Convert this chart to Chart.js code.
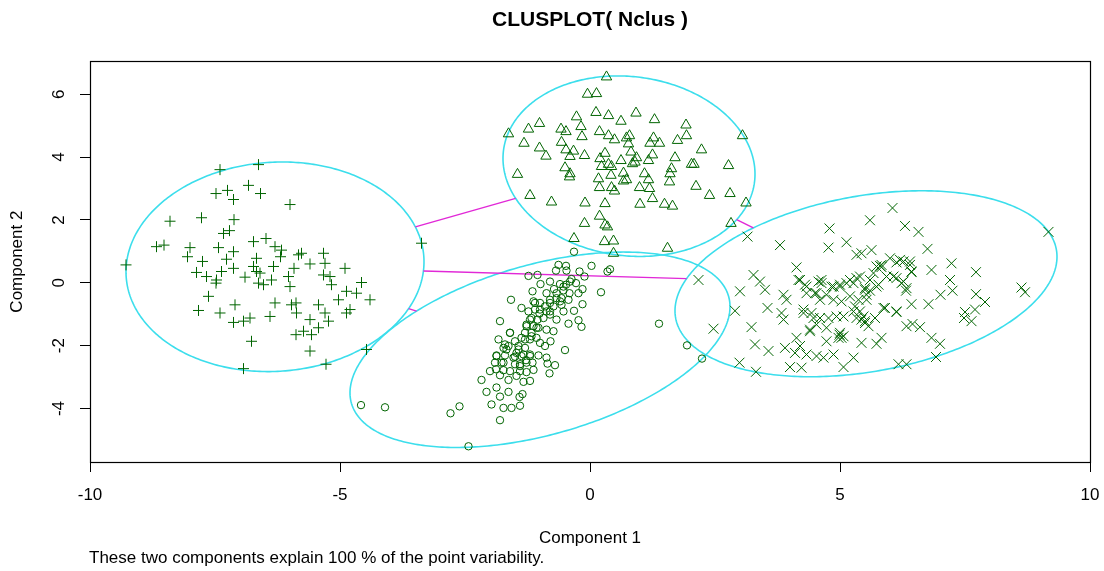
<!DOCTYPE html>
<html>
<head>
<meta charset="utf-8">
<script src="https://cdn.jsdelivr.net/npm/chart.js@4/dist/chart.umd.min.js"></script>
<style>
  html, body { margin: 0; padding: 0; background: #fff; }
  #wrap { width: 1104px; height: 571px; }
</style>
</head>
<body>
<div id="wrap"><canvas id="clusplot" width="1104" height="571"></canvas></div>
<script>
const X_TICKS = [-10, -5, 0, 5, 10];
const Y_TICKS = [-4, -2, 0, 2, 4, 6];

// cluster 1 (+)
const plusPts = [
  [-9.28,0.57],[-7.40,3.60],[-6.63,3.76],[-6.83,3.10],[-6.59,2.84],[-7.48,2.84],[-7.25,2.94],
  [-7.13,2.65],[-6.00,2.49],[-8.40,1.96],[-7.77,2.07],[-7.12,2.01],[-7.33,1.57],[-7.21,1.66],
  [-8.67,1.15],[-8.52,1.20],[-8.00,1.12],[-8.05,0.83],[-7.43,1.12],[-7.13,0.99],[-7.27,0.75],
  [-7.75,0.68],[-7.87,0.33],[-7.67,0.20],[-7.47,0.09],[-7.48,-0.01],[-7.37,0.36],[-7.13,0.46],
  [-6.90,0.18],[-6.73,0.52],[-6.67,0.78],[-6.73,1.31],[-6.48,1.41],[-6.30,1.15],[-6.17,1.04],
  [-6.19,0.83],[-6.67,0.36],[-6.60,0.31],[-6.63,-0.01],[-6.53,-0.06],[-6.37,0.09],[-6.33,0.52],
  [-6.03,0.20],[-5.92,0.46],[-6.00,-0.12],[-5.83,0.89],[-5.77,0.94],[-5.60,0.60],[-5.33,0.94],
  [-5.30,0.62],[-5.33,0.25],[-5.20,0.20],[-5.17,-0.06],[-4.90,0.46],[-4.57,0.01],[-4.87,-0.27],
  [-4.67,-0.33],[-4.40,-0.54],[-5.03,-0.54],[-4.87,-0.96],[-4.80,-0.85],[-7.63,-0.43],[-7.83,-0.88],
  [-7.40,-0.96],[-7.10,-0.70],[-7.13,-1.26],[-6.93,-1.22],[-6.80,-1.12],[-6.40,-1.07],[-6.30,-0.64],
  [-5.88,-0.64],[-5.97,-0.70],[-5.87,-0.96],[-5.43,-0.70],[-5.30,-0.96],[-5.23,-1.22],[-5.60,-1.17],
  [-5.88,-1.65],[-5.73,-1.54],[-5.57,-1.65],[-5.43,-1.43],[-6.77,-1.86],[-5.60,-2.17],[-4.47,-2.12],
  [-5.28,-2.59],[-6.93,-2.73],[-3.37,1.26]
];

// cluster 2 (triangles)
const trianglePts = [
  [0.33,6.55],[-0.05,6.00],[0.13,6.02],[-0.27,5.28],[0.12,5.42],[0.37,5.32],[0.62,5.14],[0.92,5.40],
  [1.29,5.19],[1.92,5.02],[-1.01,5.07],[-1.23,4.89],[-1.63,4.74],[-0.58,4.89],[-0.48,4.81],[-0.18,4.97],
  [-0.16,4.65],[0.19,4.81],[0.37,4.68],[0.49,4.55],[0.73,4.61],[0.79,4.68],[0.77,4.42],[1.27,4.61],
  [1.39,4.44],[1.20,4.44],[1.75,4.53],[1.93,4.68],[-1.32,4.44],[-1.01,4.29],[-0.88,4.03],[-0.57,4.47],
  [-0.48,4.23],[-0.33,4.19],[-0.40,4.02],[-0.11,4.05],[0.30,4.12],[0.20,3.95],[0.23,3.70],[0.37,3.77],
  [0.43,3.70],[0.42,3.42],[0.62,3.89],[0.67,3.49],[0.82,4.16],[0.93,3.98],[0.90,3.84],[0.85,3.79],
  [1.25,4.07],[1.17,3.89],[1.70,3.98],[2.23,4.23],[2.03,3.77],[2.08,3.77],[1.63,3.63],[1.60,3.47],
  [1.59,3.21],[2.77,3.73],[-1.45,3.45],[-0.50,3.66],[-0.40,3.47],[-0.41,3.37],[0.17,3.31],[0.19,3.03],
  [0.43,3.03],[0.49,2.92],[0.67,3.24],[0.73,3.28],[1.09,3.47],[1.17,3.28],[0.99,3.03],[1.19,3.00],
  [2.12,3.07],[2.39,2.78],[2.80,2.84],[-1.20,2.78],[-0.77,2.57],[-0.10,2.54],[0.30,2.52],[1.00,2.50],
  [1.25,2.68],[1.49,2.50],[1.65,2.44],[3.12,2.54],[3.05,4.68],[0.19,2.12],[0.30,1.84],[0.35,1.78],
  [-0.11,1.89],[-0.32,1.41],[0.29,1.31],[0.47,1.33],[1.55,1.10],[0.47,0.94],[2.82,1.89]
];

// cluster 3 (circles)
const circlePts = [
  [-0.32,0.99],[-0.63,0.57],[-0.48,0.54],[-0.68,0.39],[-0.47,0.39],[0.03,0.54],[-0.21,0.36],[-0.11,0.20],
  [-1.23,0.22],[-1.05,0.25],[-0.37,0.12],[-0.28,-0.01],[-0.99,-0.04],[-0.80,0.04],[-0.60,-0.04],[-0.48,-0.06],
  [-0.15,-0.20],[0.22,-0.30],[-1.15,-0.27],[-0.87,-0.33],[-0.72,-0.20],[-0.53,-0.24],[-0.41,-0.33],[-0.23,-0.33],
  [-0.57,-0.49],[-0.43,-0.54],[-1.58,-0.54],[-1.37,-0.80],[-1.13,-0.59],[-1.00,-0.64],[-0.80,-0.64],[-0.67,-0.49],
  [-0.73,-0.75],[-0.57,-0.70],[-0.15,-0.68],[-0.32,-0.89],[-1.80,-1.22],[-1.23,-0.91],[-1.10,-0.85],[-1.01,-0.98],
  [-0.87,-0.91],[-0.80,-1.01],[-0.53,-0.91],[-1.17,-1.12],[-1.05,-1.17],[-1.27,-1.33],[-1.13,-1.38],[-0.67,-1.17],
  [-0.43,-1.30],[-0.23,-1.19],[-0.17,-1.40],[-1.60,-1.59],[-1.30,-1.59],[-1.17,-1.59],[-1.03,-1.43],[-0.87,-1.49],
  [-0.73,-1.54],[-1.83,-1.80],[-1.50,-1.86],[-1.37,-1.75],[-1.20,-1.80],[-1.07,-1.75],[-1.00,-1.91],[-0.79,-1.86],
  [-1.73,-2.07],[-1.63,-2.01],[-1.43,-2.12],[-1.30,-2.07],[-0.90,-2.01],[-0.50,-2.14],[-1.87,-2.31],[-1.70,-2.31],
  [-1.50,-2.35],[-1.37,-2.33],[-1.20,-2.28],[-1.03,-2.31],[-0.87,-2.38],[-1.90,-2.54],[-1.73,-2.54],[-1.50,-2.59],
  [-1.40,-2.65],[-1.28,-2.46],[-1.15,-2.54],[-0.85,-2.57],[-0.70,-2.62],[-2.00,-2.81],[-1.88,-2.75],[-1.73,-2.78],
  [-1.60,-2.81],[-1.40,-2.81],[-1.27,-2.84],[-1.13,-2.77],[-0.81,-2.88],[-2.17,-3.09],[-1.80,-2.94],[-1.63,-3.09],
  [-1.47,-2.96],[-1.33,-3.15],[-1.20,-3.12],[-1.87,-3.33],[-2.07,-3.47],[-1.63,-3.47],[-1.35,-3.54],[-1.80,-3.62],
  [-1.41,-3.63],[-1.97,-3.87],[-1.73,-3.98],[-1.57,-3.98],[-1.40,-3.91],[-1.80,-4.37],[-2.61,-3.93],[-2.79,-4.15],
  [-2.43,-5.20],[0.35,0.36],[0.40,0.43],[-4.58,-3.89],[-4.10,-3.96],[1.38,-1.30],[1.94,-1.99],[2.24,-2.41],
  [-1.10,-0.64],[-1.00,-0.85],[-0.90,-0.75],[-0.80,-0.91],[-0.93,-1.12],[-1.20,-1.17],[-1.27,-1.38],[-1.07,-1.43],
  [-1.17,-1.70],[-1.30,-1.80],[-1.43,-2.01],[-1.33,-2.28],[-1.20,-2.33],[-1.47,-2.23],[-1.53,-2.38],[-1.40,-2.59],
  [-1.27,-2.54],[-1.67,-2.12],[-1.60,-1.59],[-1.70,-1.96],[-1.87,-2.33],[-1.77,-2.54],[-0.80,-0.54],[-0.53,-0.12],
  [-0.40,0.04],[-0.67,-0.33],[-0.60,-0.59]
];

// cluster 4 (x)
const crossPts = [
  [5.60,1.99],[4.79,1.73],[4.77,1.12],[5.13,1.29],[5.33,0.89],[5.43,0.94],[5.63,1.04],[3.80,1.20],
  [3.15,1.47],[4.13,0.49],[3.27,0.25],[3.40,0.04],[3.50,-0.22],[3.00,-0.27],[2.17,0.09],[4.17,0.09],
  [4.30,-0.06],[4.57,0.04],[4.63,0.09],[4.83,-0.12],[5.00,-0.12],[5.13,-0.01],[5.27,-0.01],[5.40,0.20],
  [5.50,-0.17],[5.60,-0.25],[5.67,0.31],[5.73,0.52],[3.87,-0.38],[3.93,-0.54],[4.33,-0.33],[4.50,-0.33],
  [4.60,-0.54],[4.73,-0.38],[4.87,-0.54],[5.03,-0.59],[5.20,-0.43],[5.37,-0.54],[5.53,-0.54],[2.90,-0.89],
  [3.55,-0.80],[3.83,-0.96],[3.87,-1.17],[4.27,-0.85],[4.43,-0.96],[4.47,-1.12],[4.60,-1.12],[4.77,-1.12],
  [4.93,-1.07],[5.07,-1.07],[5.27,-0.91],[5.33,-1.12],[5.43,-1.17],[5.50,-1.28],[3.23,-1.41],[4.40,-1.49],
  [4.73,-1.43],[4.99,-1.65],[5.03,-1.75],[5.43,-1.91],[4.13,-1.75],[3.30,-1.96],[3.57,-2.17],[3.90,-2.07],
  [4.10,-2.23],[4.20,-2.01],[4.33,-2.28],[4.53,-2.33],[4.67,-2.38],[4.87,-2.28],[5.27,-2.38],[2.47,-1.46],
  [2.99,-2.54],[3.32,-2.83],[4.00,-2.68],[4.23,-2.70],[5.07,-2.68],
  [6.05,2.38],[6.30,1.81],[6.57,1.62],[6.75,1.08],[5.83,0.57],[6.13,0.65],[6.27,0.68],[6.40,0.57],
  [6.43,0.34],[6.83,0.41],[7.23,0.62],[7.20,0.09],[7.25,-0.25],[7.01,-0.38],[6.77,-0.68],[6.43,-0.68],
  [6.07,0.20],[6.23,-0.01],[6.32,-0.25],[5.77,-0.06],[5.90,-0.80],[6.13,-0.93],[5.70,-1.12],[6.33,-1.38],
  [6.45,-1.31],[6.60,-1.41],[6.83,-1.75],[7.00,-1.94],[5.73,-1.94],[5.83,-1.75],[6.92,-2.36],[6.17,-2.59],
  [6.33,-2.59],[7.72,0.34],[7.72,-0.36],[7.90,-0.61],[7.70,-0.85],[7.50,-0.93],[7.48,-1.12],[7.63,-1.22],
  [8.63,-0.15],[8.70,-0.30],[9.17,1.62],
  [5.80,0.54],[5.83,0.50],[6.00,0.78],[6.20,0.73],[6.40,0.68],[6.43,0.36],[6.13,0.15],[6.27,0.04],
  [6.33,-0.17],[5.60,0.09],[5.50,-0.22],[5.53,-0.38],[5.40,-0.91],[5.47,-1.07],[5.50,-1.22],[5.57,-1.38],
  [5.30,-0.75],[5.73,-0.12],[5.93,0.20],[5.87,-0.80],[6.13,-0.91],[5.07,-1.70],[5.00,-1.59],[4.97,-1.75],
  [4.73,-1.86],[4.53,-1.33],[4.40,-1.54],[4.27,-0.96],[4.20,0.09],[4.33,-0.12],[4.53,-0.33],[4.63,-0.01],
  [4.87,-0.12],[5.00,-0.06],[5.20,0.09],[5.33,0.15]
];

// spanning ellipses: centre + two conjugate half-axes (x, y)
const ELLIPSE_CENTER = [[-6.30, 0.51], [0.78, 3.71], [-1.00, -2.13], [5.52, -0.03]];
const ELLIPSE_U = [[2.98, 0.16], [2.52, -0.25], [3.80, 1.37], [3.82, 0.86]];
const ELLIPSE_V = [[0, 3.33], [0, 2.86], [0, 2.79], [0, 2.83]];
// pairs of clusters joined by a segment
const LINKS = [[0, 1], [0, 2], [0, 3], [1, 3]];

const GREEN = '#006400';
const ELLIPSE_COLOR = 'rgb(60,222,236)';
const LINK_COLOR = 'rgb(225,40,215)';
const FONT = '"Liberation Sans", Arial, Helvetica, sans-serif';
const NOTE = 'These two components explain 100 % of the point variability.';

Chart.defaults.font.family = FONT;
Chart.defaults.color = '#000';

function toXY(p) { return {x: p[0], y: p[1]}; }

// how far along the direction (dx, dy) from the centre the ellipse boundary lies
function boundaryFraction(i, dx, dy) {
  const u = ELLIPSE_U[i], v = ELLIPSE_V[i];
  const det = u[0] * v[1] - v[0] * u[1];
  const a = (dx * v[1] - v[0] * dy) / det;
  const b = (u[0] * dy - u[1] * dx) / det;
  return 1 / Math.hypot(a, b);
}

const clusPlugin = {
  id: 'clusplot',
  beforeDatasetsDraw(chart) {
    const ctx = chart.ctx;
    const xs = chart.scales.x, ys = chart.scales.y;
    const area = chart.chartArea;
    ctx.save();
    ctx.beginPath();
    ctx.rect(area.left, area.top, area.right - area.left, area.bottom - area.top);
    ctx.clip();

    ctx.lineWidth = 1.6;
    ctx.strokeStyle = ELLIPSE_COLOR;
    ELLIPSE_CENTER.forEach(function(c, i) {
      const u = ELLIPSE_U[i], v = ELLIPSE_V[i];
      ctx.beginPath();
      for (let k = 0; k <= 360; k++) {
        const t = k * Math.PI / 180;
        const px = xs.getPixelForValue(c[0] + u[0] * Math.cos(t) + v[0] * Math.sin(t));
        const py = ys.getPixelForValue(c[1] + u[1] * Math.cos(t) + v[1] * Math.sin(t));
        if (k === 0) ctx.moveTo(px, py); else ctx.lineTo(px, py);
      }
      ctx.closePath();
      ctx.stroke();
    });

    ctx.lineWidth = 1.4;
    ctx.strokeStyle = LINK_COLOR;
    LINKS.forEach(function(pair) {
      const a = ELLIPSE_CENTER[pair[0]], b = ELLIPSE_CENTER[pair[1]];
      const dx = b[0] - a[0], dy = b[1] - a[1];
      const s0 = boundaryFraction(pair[0], dx, dy);
      const s1 = 1 - boundaryFraction(pair[1], -dx, -dy);
      if (s0 >= s1) return;
      ctx.beginPath();
      ctx.moveTo(xs.getPixelForValue(a[0] + s0 * dx), ys.getPixelForValue(a[1] + s0 * dy));
      ctx.lineTo(xs.getPixelForValue(a[0] + s1 * dx), ys.getPixelForValue(a[1] + s1 * dy));
      ctx.stroke();
    });
    ctx.restore();
  },
  afterDraw(chart) {
    const ctx = chart.ctx;
    const area = chart.chartArea;
    ctx.save();
    ctx.strokeStyle = '#000';
    ctx.lineWidth = 1.2;
    ctx.strokeRect(Math.round(area.left) + 0.5, Math.round(area.top) + 0.5,
      Math.round(area.right - area.left), Math.round(area.bottom - area.top));
    ctx.fillStyle = '#000';
    ctx.font = '17px ' + FONT;
    ctx.textAlign = 'left';
    ctx.textBaseline = 'middle';
    ctx.fillText(NOTE, 89, 558);
    ctx.restore();
  }
};

function pointSet(label, pts, style, radius) {
  return {
    label: label,
    data: pts.map(toXY),
    pointStyle: style,
    pointRadius: radius,
    pointHoverRadius: radius,
    borderColor: GREEN,
    backgroundColor: 'rgba(0,0,0,0)',
    borderWidth: 1,
    showLine: false
  };
}

const axisGrid = {
  drawOnChartArea: false,
  drawTicks: true,
  tickLength: 10,
  color: '#000',
  lineWidth: 1
};

new Chart(document.getElementById('clusplot').getContext('2d'), {
  type: 'scatter',
  data: {
    datasets: [
      pointSet('1', plusPts, 'cross', 5.5),
      pointSet('2', trianglePts, 'triangle', 6),
      pointSet('3', circlePts, 'circle', 3.7),
      pointSet('4', crossPts, 'crossRot', 7)
    ]
  },
  options: {
    responsive: false,
    animation: false,
    layout: { padding: { left: 0, right: 0, top: 0, bottom: 0 } },
    plugins: {
      legend: { display: false },
      tooltip: { enabled: false },
      title: {
        display: true,
        fullSize: false,
        text: 'CLUSPLOT( Nclus )',
        color: '#000',
        font: { size: 21, weight: 'bold' },
        padding: { top: 8, bottom: 28 }
      }
    },
    scales: {
      x: {
        type: 'linear',
        min: -10,
        max: 10,
        afterBuildTicks: function(s) { s.ticks = X_TICKS.map(function(v) { return {value: v}; }); },
        afterFit: function(s) {
          s.height = 109;
          s.paddingLeft = 0;
          s.paddingRight = 14;
        },
        ticks: { font: { size: 17 }, padding: 13, maxRotation: 0, autoSkip: false, color: '#000' },
        grid: axisGrid,
        border: { display: false },
        title: {
          display: true,
          text: 'Component 1',
          color: '#000',
          font: { size: 17 },
          padding: { top: 0, bottom: 22 }
        }
      },
      y: {
        type: 'linear',
        min: -5.70,
        max: 7.05,
        afterBuildTicks: function(s) { s.ticks = Y_TICKS.map(function(v) { return {value: v}; }); },
        afterFit: function(s) { s.width = 90; },
        ticks: { font: { size: 17 }, padding: 13, minRotation: 90, maxRotation: 90, crossAlign: 'center', autoSkip: false, color: '#000' },
        grid: axisGrid,
        border: { display: false },
        title: {
          display: true,
          text: 'Component 2',
          color: '#000',
          font: { size: 17 },
          padding: { top: 7, bottom: 0 }
        }
      }
    }
  },
  plugins: [clusPlugin]
});
</script>
</body>
</html>
